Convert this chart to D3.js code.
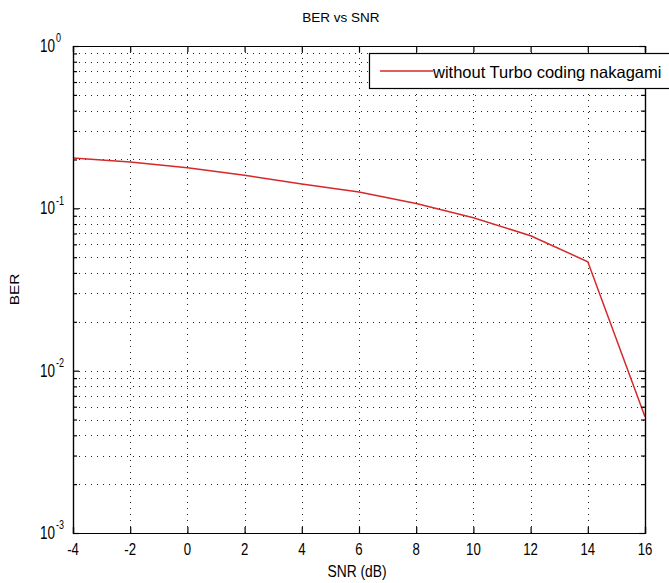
<!DOCTYPE html>
<html>
<head>
<meta charset="utf-8">
<script src="https://cdn.jsdelivr.net/npm/d3@7"></script>
<style>
  html, body { margin: 0; padding: 0; background: #fff; }
  svg { display: block; }
  text { font-family: "Liberation Sans", Arial, sans-serif; fill: #000; }
</style>
</head>
<body>
<svg id="chart" width="669" height="583"></svg>
<script>
// ---- data ----
const snr = [-4, -2, 0, 2, 4, 6, 8, 10, 12, 14, 16];
const ber = [0.204, 0.193, 0.178, 0.160, 0.141, 0.126, 0.107, 0.0875, 0.0678, 0.0469, 0.0052];
const xTicks = [-4, -2, 0, 2, 4, 6, 8, 10, 12, 14, 16];
const yExponents = [0, -1, -2, -3];
const seriesName = "without Turbo coding nakagami";
const titleText = "BER vs SNR";
const xLabelText = "SNR (dB)";
const yLabelText = "BER";

// ---- layout ----
const L = 73, R = 645, T = 46, B = 533;
const svg = d3.select("#chart");

const x = d3.scaleLinear().domain([-4, 16]).range([L, R]);
const y = d3.scaleLog().domain([1e-3, 1]).range([B, T]);

// minor/major y grid values
const yGridVals = [];
for (let e = -3; e < 0; e++) {
  for (let m = 1; m <= 9; m++) yGridVals.push(m * Math.pow(10, e));
}
yGridVals.push(1);
const yMinor = yGridVals.filter(v => Math.abs(Math.log10(v) - Math.round(Math.log10(v))) > 1e-9);
const yMajor = yExponents.map(e => Math.pow(10, e));

// ---- grid ----
const grid = svg.append("g").attr("stroke", "#222").attr("stroke-width", 1)
  .attr("stroke-dasharray", "1,5").attr("shape-rendering", "crispEdges");
grid.selectAll("line.gx").data(xTicks.slice(1, -1)).join("line")
  .attr("x1", d => Math.round(x(d)) + 0.5).attr("x2", d => Math.round(x(d)) + 0.5)
  .attr("y1", T).attr("y2", B);
grid.selectAll("line.gy").data(yGridVals.filter(v => v > 1e-3 && v < 1)).join("line")
  .attr("x1", L).attr("x2", R)
  .attr("y1", d => Math.round(y(d)) + 0.5).attr("y2", d => Math.round(y(d)) + 0.5);

// ---- series line ----
const line = d3.line().x((d, i) => x(snr[i])).y(d => y(d));
svg.append("path").datum(ber)
  .attr("fill", "none").attr("stroke", "#d42a2a").attr("stroke-width", 1.5)
  .attr("d", line);

// ---- axes (box with inward ticks) ----
const axB = d3.axisBottom(x).tickValues(xTicks).tickSize(-6).tickFormat("");
const axT = d3.axisTop(x).tickValues(xTicks).tickSize(-6).tickFormat("");
const axL = d3.axisLeft(y).tickValues(yMajor).tickSize(-6).tickFormat("");
const axR = d3.axisRight(y).tickValues(yMajor).tickSize(-6).tickFormat("");
const axLm = d3.axisLeft(y).tickValues(yMinor).tickSize(-4).tickFormat("");
const axRm = d3.axisRight(y).tickValues(yMinor).tickSize(-4).tickFormat("");

function styleAxis(g) {
  g.selectAll("path.domain").attr("stroke", "#000").attr("stroke-width", 1.2);
  g.selectAll(".tick line").attr("stroke", "#000").attr("stroke-width", 1.2);
}
svg.append("g").attr("transform", `translate(0,${B})`).call(axB).call(styleAxis);
svg.append("g").attr("transform", `translate(0,${T})`).call(axT).call(styleAxis);
svg.append("g").attr("transform", `translate(${L},0)`).call(axL).call(styleAxis);
svg.append("g").attr("transform", `translate(${R},0)`).call(axR).call(styleAxis);
svg.append("g").attr("transform", `translate(${L},0)`).call(axLm).call(styleAxis);
svg.append("g").attr("transform", `translate(${R},0)`).call(axRm).call(styleAxis);

// ---- tick labels ----
svg.append("g").selectAll("text").data(xTicks).join("text")
  .attr("transform", d => `translate(${x(d)},555) scale(0.88,1.15)`)
  .attr("text-anchor", "middle")
  .style("font-size", "15px")
  .text(d => d);

const yl = svg.append("g").selectAll("g").data(yExponents).join("g")
  .attr("transform", d => `translate(55,${y(Math.pow(10, d)) + 6}) scale(0.9,1.2)`);
yl.append("text").attr("text-anchor", "end").style("font-size", "15px").text("10");
yl.append("text").attr("x", 1).attr("y", -8).attr("text-anchor", "start")
  .style("font-size", "10px").text(d => d);

// ---- title / labels ----
svg.append("text").attr("x", (L + R) / 2 - 18).attr("y", 22).attr("text-anchor", "middle")
  .style("font-size", "13.5px").text(titleText);
svg.append("text").attr("transform", `translate(${(L + R) / 2 - 2},577) scale(0.92,1.15)`)
  .attr("text-anchor", "middle").style("font-size", "15px").text(xLabelText);
svg.append("text").attr("transform", `translate(19,${(T + B) / 2}) rotate(-90) scale(1.1,0.92)`)
  .attr("text-anchor", "middle").style("font-size", "14px").text(yLabelText);

// ---- legend ----
const lg = svg.append("g");
lg.append("rect").attr("x", 369.5).attr("y", 53.5).attr("width", 320).attr("height", 35)
  .attr("fill", "#fff").attr("stroke", "#000").attr("stroke-width", 1.2);
lg.append("line").attr("x1", 380).attr("x2", 433).attr("y1", 71).attr("y2", 71)
  .attr("stroke", "#d42a2a").attr("stroke-width", 1.5);
lg.append("text").attr("x", 433).attr("y", 78).style("font-size", "16.5px").text(seriesName);
</script>
</body>
</html>
